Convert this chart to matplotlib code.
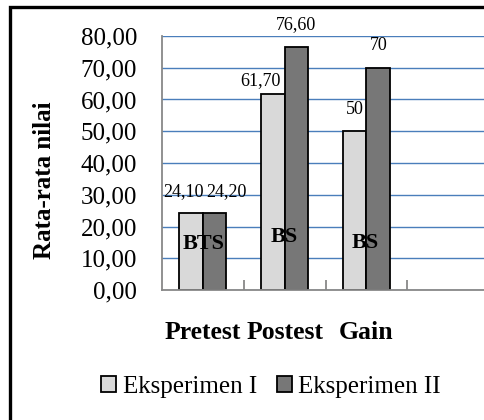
import matplotlib.pyplot as plt
from matplotlib.patches import Rectangle, Patch
import numpy as np

kategori = ["Pretest", "Postest", "Gain", ""]
eksp1 = [24.10, 61.70, 50]
eksp2 = [24.20, 76.60, 70]
label1 = ["24,10", "61,70", "50"]
label2 = ["24,20", "76,60", "70"]
kriteria = ["BTS", "BS", "BS"]
yticks = [0, 10, 20, 30, 40, 50, 60, 70, 80]
ytick_labels = ["0,00", "10,00", "20,00", "30,00", "40,00", "50,00", "60,00", "70,00", "80,00"]

plt.rcParams['font.family'] = ['Liberation Serif', 'DejaVu Serif']

fig = plt.figure(figsize=(4.84, 4.2), dpi=100)
ax = fig.add_axes([162/484, 1-290/420, 327/484, 254/420])

x = np.arange(len(eksp1))
w = 0.286
ax.bar(x - w/2, eksp1, w, color="#d9d9d9", edgecolor="black", linewidth=1.3, zorder=3)
ax.bar(x + w/2, eksp2, w, color="#777777", edgecolor="black", linewidth=1.3, zorder=3)

# label nilai (digeser manual seperti di gambar asli)
geser1 = [(-0.1, 6.8), (-0.15, 4.4), (-0.0, 6.7)]
geser2 = [(0.15, 6.7), (0.0, 6.9), (0.01, 6.9)]
for i in range(len(x)):
    ax.text(x[i] - w/2 + geser1[i][0], eksp1[i] + geser1[i][1], label1[i],
            ha="center", va="center", fontsize=13, zorder=5)
    ax.text(x[i] + w/2 + geser2[i][0], eksp2[i] + geser2[i][1], label2[i],
            ha="center", va="center", fontsize=13, zorder=5)

kriteria_y = [14.6, 16.6, 14.9]
kriteria_x = [0.01, -0.01, -0.01]
for i in range(len(x)):
    ax.text(x[i] + kriteria_x[i], kriteria_y[i], kriteria[i], ha="center", va="center",
            fontsize=16, fontweight="bold", zorder=5)

ax.set_xlim(-0.5, 3.5)
ax.set_ylim(0, 80)
ax.set_yticks(yticks)
ax.set_yticklabels(ytick_labels, fontsize=18)
ax.tick_params(axis="y", length=0, pad=18)

ax.set_xticks(np.arange(len(kategori)))
ax.set_xticklabels(kategori, fontsize=18.5, fontweight="bold")
ax.set_xticks(np.arange(len(kategori)) + 0.5, minor=True)
ax.tick_params(axis="x", which="major", length=0, pad=22)
ax.tick_params(axis="x", which="minor", direction="in", length=7, width=1.3, color="#888888")

ax.grid(axis="y", color="#4a7ebb", linewidth=1, zorder=0)
for s in ["top", "right"]:
    ax.spines[s].set_visible(False)
for s in ["left", "bottom"]:
    ax.spines[s].set_color("#888888")
    ax.spines[s].set_linewidth(1.3)
    ax.spines[s].set_zorder(4)

ax.set_ylabel("Rata-rata nilai", fontsize=18, fontweight="bold")
ax.yaxis.set_label_coords((56 - 162) / 327, (290 - 180) / 254)

handles = [Patch(facecolor="#d9d9d9", edgecolor="black", linewidth=1.3),
           Patch(facecolor="#777777", edgecolor="black", linewidth=1.3)]
fig.legend(handles, ["Eksperimen I", "Eksperimen II"], loc="center",
           bbox_to_anchor=(271/484, 1-387/420), ncol=2, frameon=False,
           fontsize=18, handlelength=0.6, handleheight=0.6,
           handletextpad=0.25, columnspacing=0.8)

fig.patches.append(Rectangle((10/484, -0.1), 1.2, 1-7/420+0.1, transform=fig.transFigure,
                             fill=False, edgecolor="black", linewidth=2.4))

fig.savefig("out.png", dpi=100)
